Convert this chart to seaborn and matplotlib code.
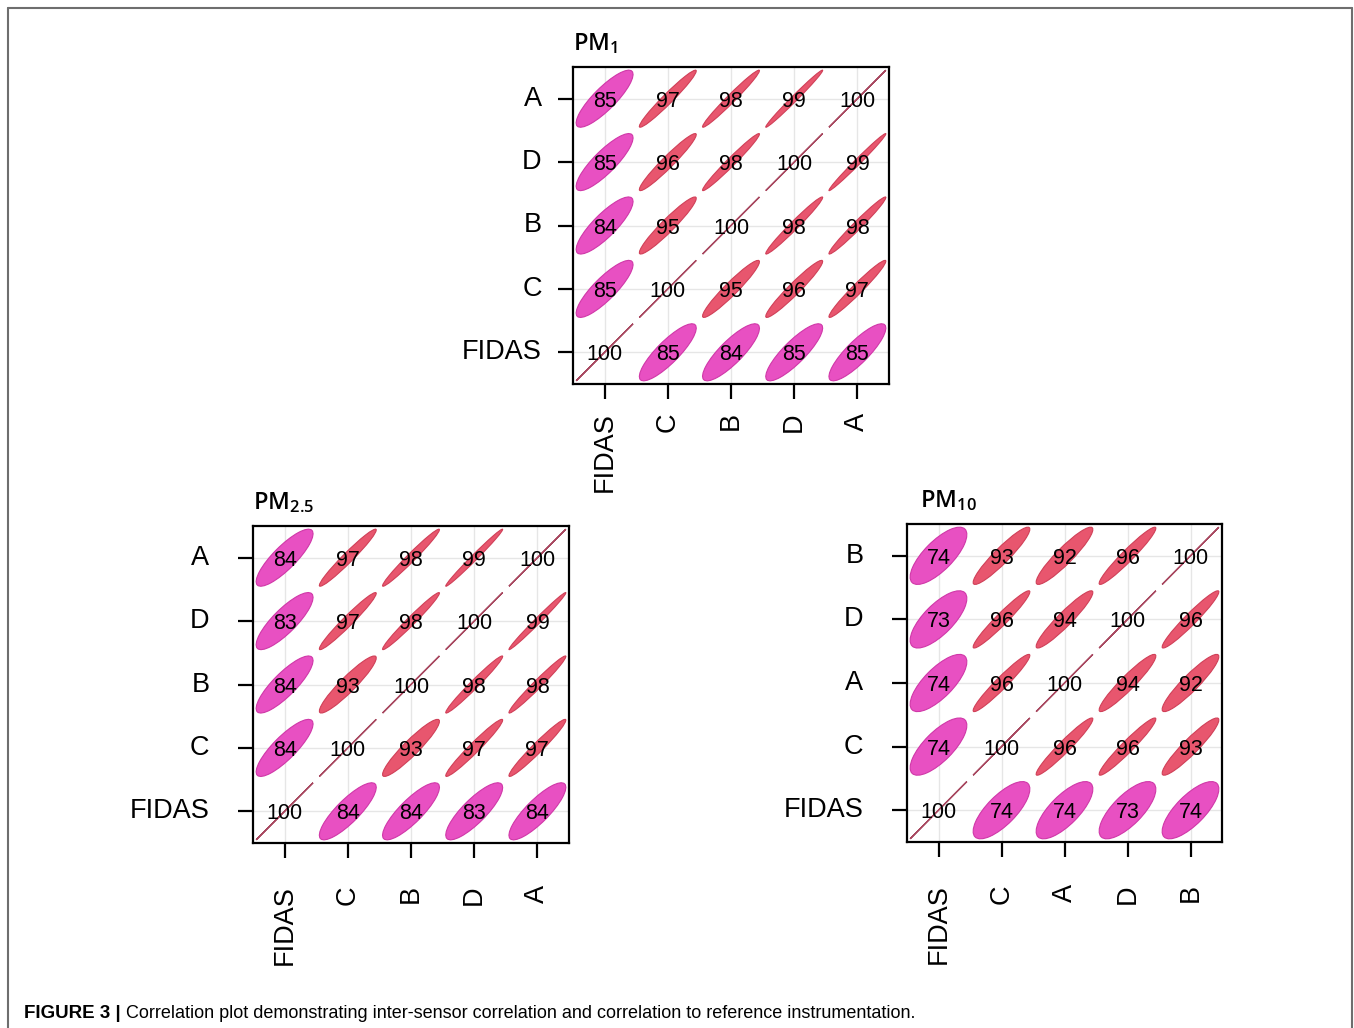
import numpy as np
import pandas as pd
import seaborn as sns
import matplotlib
matplotlib.use("Agg")
import matplotlib.pyplot as plt
from matplotlib.patches import Ellipse
from matplotlib.colors import ListedColormap
from matplotlib.lines import Line2D

# ---------------- data ----------------
pm1_rows = ["A", "D", "B", "C", "FIDAS"]
pm1_cols = ["FIDAS", "C", "B", "D", "A"]
pm1_values = [
    [85, 97, 98, 99, 100],
    [85, 96, 98, 100, 99],
    [84, 95, 100, 98, 98],
    [85, 100, 95, 96, 97],
    [100, 85, 84, 85, 85],
]

pm25_rows = ["A", "D", "B", "C", "FIDAS"]
pm25_cols = ["FIDAS", "C", "B", "D", "A"]
pm25_values = [
    [84, 97, 98, 99, 100],
    [83, 97, 98, 100, 99],
    [84, 93, 100, 98, 98],
    [84, 100, 93, 97, 97],
    [100, 84, 84, 83, 84],
]

pm10_rows = ["B", "D", "A", "C", "FIDAS"]
pm10_cols = ["FIDAS", "C", "A", "D", "B"]
pm10_values = [
    [74, 93, 92, 96, 100],
    [73, 96, 94, 100, 96],
    [74, 96, 100, 94, 92],
    [74, 100, 96, 96, 93],
    [100, 74, 74, 73, 74],
]

caption_bold = "FIGURE 3 |"
caption_text = " Correlation plot demonstrating inter-sensor correlation and correlation to reference instrumentation."

# ---------------- style ----------------
sns.set_theme(style="white")
plt.rcParams["font.family"] = ["Liberation Sans", "DejaVu Sans"]
plt.rcParams["mathtext.default"] = "regular"
plt.rcParams["text.color"] = "black"
plt.rcParams["xtick.labelcolor"] = "black"
plt.rcParams["ytick.labelcolor"] = "black"

W, H = 1354, 1028
fig = plt.figure(figsize=(W / 100, H / 100), dpi=100)
fig.patch.set_facecolor("white")

COL_HIGH = "#e8566e"
EDGE_HIGH = "#d04058"
COL_LOW = "#e850c2"
EDGE_LOW = "#d038a8"
COL_LINE = "#a84860"


def px_rect(x0, y0, x1, y1):
    return [x0 / W, 1 - y1 / H, (x1 - x0) / W, (y1 - y0) / H]


def panel(rect, rows, cols, vals, sub, title_dx=0, xpad=10, ypad=12):
    ax = fig.add_axes(rect)
    df = pd.DataFrame(vals, index=rows, columns=cols)
    sns.heatmap(df, ax=ax, cmap=ListedColormap(["white"]), cbar=False,
                annot=True, fmt="d",
                annot_kws=dict(fontsize=15.5, color="black"))
    # nudge the annotations slightly downward like the reference
    for t in ax.texts:
        x, y = t.get_position()
        t.set_position((x, y + 0.04))
    # light grid through cell centres
    for k in range(len(cols)):
        ax.axvline(k + 0.5, color="#e6e6e6", lw=1.0, zorder=1.5)
    for k in range(len(rows)):
        ax.axhline(k + 0.5, color="#e6e6e6", lw=1.0, zorder=1.5)
    s = 0.45
    for i in range(len(rows)):
        for j in range(len(cols)):
            v = df.iloc[i, j]
            r = v / 100.0
            w = 2 * s * np.sqrt(1 + r)
            h = 2 * s * np.sqrt(max(1 - r, 0))
            if v >= 100:
                e = Ellipse((j + 0.5, i + 0.5), w, 0.0, angle=-45,
                            facecolor="none", edgecolor=COL_LINE, lw=1.0, zorder=2)
            elif v >= 90:
                e = Ellipse((j + 0.5, i + 0.5), w, h, angle=-45,
                            facecolor=COL_HIGH, edgecolor=EDGE_HIGH, lw=0.8, zorder=2)
            else:
                e = Ellipse((j + 0.5, i + 0.5), w, h, angle=-45,
                            facecolor=COL_LOW, edgecolor=EDGE_LOW, lw=0.8, zorder=2)
            ax.add_patch(e)
    for sp in ax.spines.values():
        sp.set_visible(True)
        sp.set_color("black")
        sp.set_linewidth(1.6)
    ax.set_xticklabels(cols, rotation=90, fontsize=19.5)
    ax.set_yticklabels(rows, rotation=0, fontsize=19.5)
    ax.tick_params(axis="both", bottom=True, left=True, length=10.5,
                   width=1.6, color="black")
    ax.tick_params(axis="x", pad=xpad)
    ax.tick_params(axis="y", pad=ypad)
    ax.set_xlabel("")
    ax.set_ylabel("")
    ax.annotate("PM$_{\\mathregular{" + sub + "}}$", xy=(0, 1), xycoords="axes fraction",
                xytext=(title_dx, 12.5), textcoords="offset points",
                ha="left", va="baseline", fontsize=17,
                fontfamily="Open Sans", fontweight="semibold", annotation_clip=False)
    return ax


panel(px_rect(573, 67, 889, 384), pm1_rows, pm1_cols, pm1_values, "1")
panel(px_rect(253, 526, 569, 843), pm25_rows, pm25_cols, pm25_values, "2.5",
      xpad=20, ypad=21)
panel(px_rect(907, 524, 1222, 842), pm10_rows, pm10_cols, pm10_values, "10",
      title_dx=9, xpad=20, ypad=21)

# caption and outer frame
cax = fig.add_axes([0, 0, 1, 1])
cax.set_xlim(0, 1)
cax.set_ylim(0, 1)
cax.axis("off")
t1 = cax.text(24 / W, 1 - 1013 / H, caption_bold, fontsize=13.5, fontweight="bold",
              ha="left", va="center")
cax.annotate(caption_text, xy=(1, 0.5), xycoords=t1, ha="left", va="center", fontsize=13)

frame_kw = dict(color="#6e6e6e", lw=1.5, transform=fig.transFigure)
fig.add_artist(Line2D([8 / W, 8 / W], [0, 1 - 8 / H], **frame_kw))
fig.add_artist(Line2D([1352 / W, 1352 / W], [0, 1 - 8 / H], **frame_kw))
fig.add_artist(Line2D([8 / W, 1352 / W], [1 - 8 / H, 1 - 8 / H], **frame_kw))

fig.savefig("out.png", dpi=100, facecolor="white")
